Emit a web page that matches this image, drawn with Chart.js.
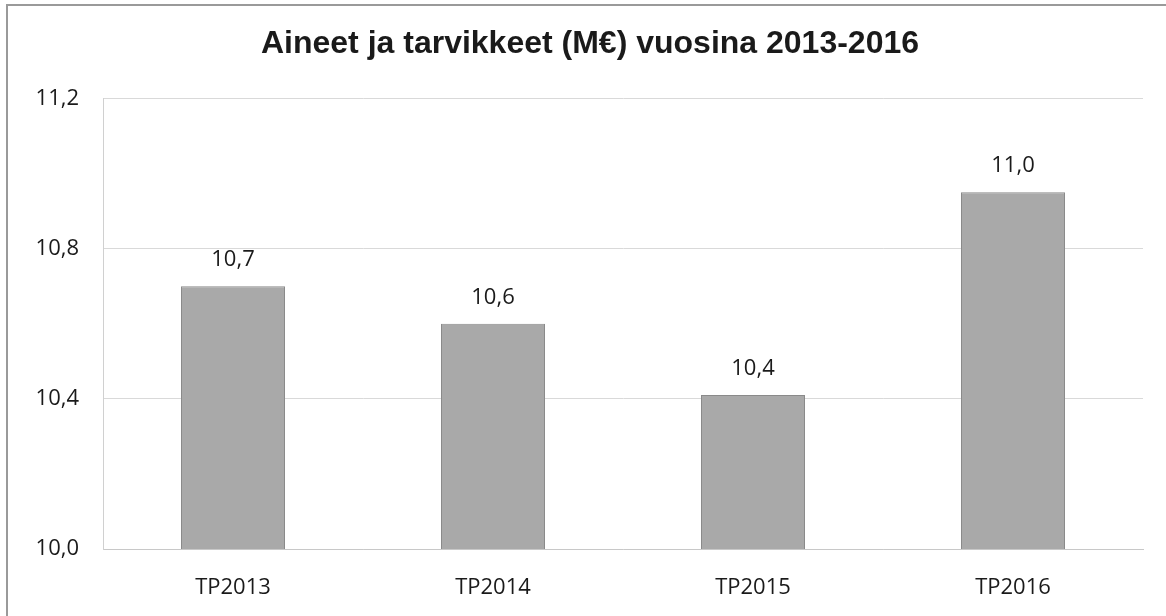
<!DOCTYPE html>
<html>
<head>
<meta charset="utf-8">
<script src="https://cdn.jsdelivr.net/npm/chart.js@4.4.0/dist/chart.umd.min.js"></script>
<style>
  html, body { margin: 0; padding: 0; background: #fff; }
  #wrap { position: relative; width: 1166px; height: 616px; }
  #frame { position: absolute; left: 6px; top: 4px; width: 1162px; height: 620px; border: 2px solid #9a9a9a; box-sizing: border-box; }
  canvas { position: absolute; left: 0; top: 0; }
</style>
</head>
<body>
<div id="wrap">
  <div id="frame"></div>
  <canvas id="chart" width="1166" height="616"></canvas>
</div>
<script>
// categories and values
const categories = ["TP2013", "TP2014", "TP2015", "TP2016"]
const values = [10.7, 10.6, 10.41, 10.95]
const yTicks = [10.0, 10.4, 10.8, 11.2]

// one decimal, comma as separator (small epsilon so 10.95 rounds up like Excel)
const fmt = (v) => (Math.round(v * 10 + 1e-6) / 10).toFixed(1).replace(".", ",")

// labels above the bars
const barLabels = {
    id: "barLabels",
    afterDatasetsDraw(chart) {
        const ctx = chart.ctx
        const meta = chart.getDatasetMeta(0)
        ctx.save()
        ctx.font = "22px 'Open Sans', sans-serif"
        ctx.fillStyle = "#1a1a1a"
        ctx.textAlign = "center"
        ctx.textBaseline = "alphabetic"
        meta.data.forEach((bar, i) => {
            ctx.fillText(fmt(values[i]), bar.x, bar.y - 20)
        })
        ctx.restore()
    },
}

new Chart(document.getElementById("chart"), {
    type: "bar",
    data: {
        labels: categories,
        datasets: [{
            data: values,
            backgroundColor: "#a9a9a9",
            borderColor: "#8a8a8a",
            borderWidth: 1,
            categoryPercentage: 0.4,
            barPercentage: 1.0,
        }],
    },
    options: {
        responsive: false,
        animation: false,
        layout: { padding: { left: 37, right: 23, top: 0, bottom: 0 } },
        plugins: {
            legend: { display: false },
            tooltip: { enabled: false },
            title: {
                display: true,
                text: "Aineet ja tarvikkeet (M€) vuosina 2013-2016",
                color: "#1a1a1a",
                font: { family: "'Liberation Sans', Arial, sans-serif", size: 32, weight: "bold" },
                padding: { top: 25, bottom: 35 },
            },
        },
        scales: {
            x: {
                afterFit: (axis) => { axis.height = 67 },
                grid: { display: false },
                border: { color: "#c8c8c8" },
                ticks: {
                    color: "#1a1a1a",
                    font: { family: "'Open Sans', sans-serif", size: 22 },
                    padding: 18,
                },
            },
            y: {
                min: 10.0,
                max: 11.2,
                afterFit: (axis) => { axis.width = 66 },
                afterBuildTicks: (axis) => { axis.ticks = yTicks.map((v) => ({ value: v })) },
                grid: { color: "#d9d9d9", drawTicks: false },
                border: { color: "#d0d0d0" },
                ticks: {
                    color: "#1a1a1a",
                    font: { family: "'Open Sans', sans-serif", size: 22 },
                    padding: 24,
                    callback: (v) => fmt(v),
                },
            },
        },
    },
    plugins: [barLabels],
})
</script>
</body>
</html>
